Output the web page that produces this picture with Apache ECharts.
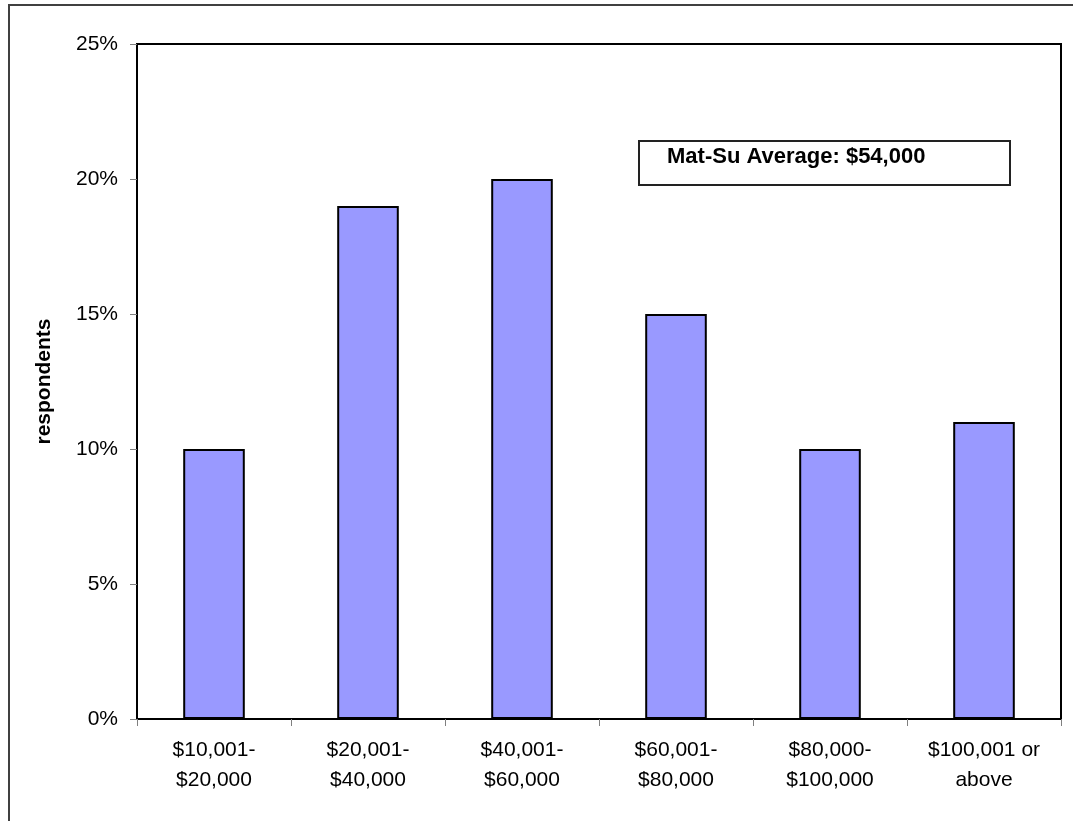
<!DOCTYPE html>
<html>
<head>
<meta charset="utf-8">
<script src="https://cdn.jsdelivr.net/npm/echarts@6/dist/echarts.min.js"></script>
<style>
  html, body { margin: 0; padding: 0; background: #fff; }
  #chart { width: 1073px; height: 821px; }
</style>
</head>
<body>
<div id="chart"></div>
<script>
// Household income ranges and share of respondents (%)
const categories = [
  '$10,001-\n$20,000',
  '$20,001-\n$40,000',
  '$40,001-\n$60,000',
  '$60,001-\n$80,000',
  '$80,000-\n$100,000',
  '$100,001 or\nabove'
];
const respondents = [10, 19, 20, 15, 10, 11];
const yTicks = { min: 0, max: 25, interval: 5 };
const averageNote = 'Mat-Su Average: $54,000';

const FONT = '"Liberation Sans", Arial, sans-serif';

const chart = echarts.init(document.getElementById('chart'), null, { renderer: 'canvas' });

chart.setOption({
  backgroundColor: '#ffffff',
  animation: false,
  grid: {
    left: 137, right: 12, top: 44, bottom: 102,
    show: true, borderColor: '#000', borderWidth: 2, backgroundColor: '#fff'
  },
  xAxis: {
    type: 'category',
    data: categories,
    axisLine: { show: true, lineStyle: { color: '#000', width: 2 } },
    axisTick: { show: true, alignWithLabel: false, length: 7, lineStyle: { color: '#808080', width: 1 } },
    axisLabel: {
      color: '#000', fontFamily: FONT, fontSize: 21, lineHeight: 30, margin: 16, interval: 0
    },
    splitLine: { show: false }
  },
  yAxis: {
    type: 'value',
    min: yTicks.min, max: yTicks.max, interval: yTicks.interval,
    name: 'respondents',
    nameLocation: 'middle',
    nameRotate: 90,
    nameGap: 82,
    nameTextStyle: { color: '#000', fontFamily: FONT, fontSize: 21, fontWeight: 'bold' },
    axisLine: { show: true, lineStyle: { color: '#000', width: 2 } },
    axisTick: { show: true, length: 7, lineStyle: { color: '#808080', width: 1 } },
    axisLabel: {
      color: '#000', fontFamily: FONT, fontSize: 21, margin: 19,
      formatter: '{value}%'
    },
    splitLine: { show: false }
  },
  series: [{
    type: 'bar',
    data: respondents,
    barWidth: '40%',
    itemStyle: { color: '#9999FF', borderColor: '#000', borderWidth: 2 }
  }],
  graphic: [
    {
      // outer chart frame
      type: 'rect',
      shape: { x: 9, y: 5, width: 1200, height: 1000 },
      style: { fill: 'none', stroke: '#404040', lineWidth: 2 },
      silent: true
    },
    {
      type: 'group',
      left: 638, top: 140,
      children: [
        {
          type: 'rect',
          shape: { x: 0, y: 0, width: 371, height: 44 },
          style: { fill: '#fff', stroke: '#222', lineWidth: 2 }
        },
        {
          type: 'text',
          x: 28, y: 16,
          style: {
            text: averageNote,
            fill: '#000',
            font: 'bold 22px ' + FONT,
            verticalAlign: 'middle'
          }
        }
      ]
    }
  ]
});
</script>
</body>
</html>
